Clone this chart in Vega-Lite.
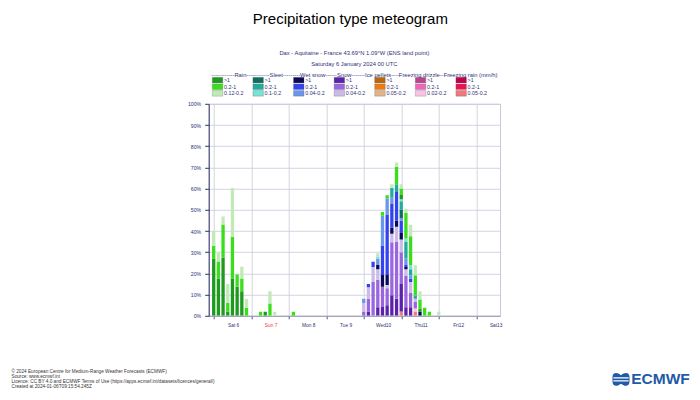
{
  "$schema": "https://vega.github.io/schema/vega-lite/v6.json",
  "padding": {"left": 11, "top": 11, "right": 0, "bottom": 0},
  "background": "white",
  "title": {"text": "Precipitation type meteogram", "fontSize": 15, "fontWeight": "normal", "font": "Liberation Sans", "color": "#000000", "anchor": "middle", "offset": 8.5, "baseline": "bottom"},
  "config": {
    "font": "Liberation Sans",
    "view": {"stroke": null},
    "axis": {"labelFont": "Liberation Sans"}
  },
  "datasets": {
    "cats": [
      {"c": "F3", "type": "Freezing rain", "lvl": "hi", "label": ">1", "o": 1},
      {"c": "F2", "type": "Freezing rain", "lvl": "mid", "label": "0.2-1", "o": 2},
      {"c": "F1", "type": "Freezing rain", "lvl": "lo", "label": "0.05-0.2", "o": 3},
      {"c": "D3", "type": "Freezing drizzle", "lvl": "hi", "label": ">1", "o": 4},
      {"c": "D2", "type": "Freezing drizzle", "lvl": "mid", "label": "0.2-1", "o": 5},
      {"c": "D1", "type": "Freezing drizzle", "lvl": "lo", "label": "0.02-0.2", "o": 6},
      {"c": "I3", "type": "Ice pellets", "lvl": "hi", "label": ">1", "o": 7},
      {"c": "I2", "type": "Ice pellets", "lvl": "mid", "label": "0.2-1", "o": 8},
      {"c": "I1", "type": "Ice pellets", "lvl": "lo", "label": "0.05-0.2", "o": 9},
      {"c": "N3", "type": "Snow", "lvl": "hi", "label": ">1", "o": 10},
      {"c": "N2", "type": "Snow", "lvl": "mid", "label": "0.2-1", "o": 11},
      {"c": "N1", "type": "Snow", "lvl": "lo", "label": "0.04-0.2", "o": 12},
      {"c": "W3", "type": "Wet snow", "lvl": "hi", "label": ">1", "o": 13},
      {"c": "W2", "type": "Wet snow", "lvl": "mid", "label": "0.2-1", "o": 14},
      {"c": "W1", "type": "Wet snow", "lvl": "lo", "label": "0.04-0.2", "o": 15},
      {"c": "S3", "type": "Sleet", "lvl": "hi", "label": ">1", "o": 16},
      {"c": "S2", "type": "Sleet", "lvl": "mid", "label": "0.2-1", "o": 17},
      {"c": "S1", "type": "Sleet", "lvl": "lo", "label": "0.1-0.2", "o": 18},
      {"c": "R3", "type": "Rain", "lvl": "hi", "label": ">1", "o": 19},
      {"c": "R2", "type": "Rain", "lvl": "mid", "label": "0.2-1", "o": 20},
      {"c": "R1", "type": "Rain", "lvl": "lo", "label": "0.12-0.2", "o": 21}
    ],
    "bars": [
      {"h": 0, "c": "R3", "v": 27}, {"h": 0, "c": "R2", "v": 6}, {"h": 0, "c": "R1", "v": 7},
      {"h": 3, "c": "R3", "v": 17.6}, {"h": 3, "c": "R2", "v": 8}, {"h": 3, "c": "R1", "v": 4},
      {"h": 6, "c": "R3", "v": 27.4}, {"h": 6, "c": "R2", "v": 15.7}, {"h": 6, "c": "R1", "v": 3.7},
      {"h": 9, "c": "R3", "v": 2}, {"h": 9, "c": "R2", "v": 4}, {"h": 9, "c": "R1", "v": 9},
      {"h": 12, "c": "R3", "v": 17.6}, {"h": 12, "c": "R2", "v": 19.7}, {"h": 12, "c": "R1", "v": 23},
      {"h": 15, "c": "R3", "v": 13.7}, {"h": 15, "c": "R2", "v": 5.8},
      {"h": 18, "c": "R3", "v": 11.6}, {"h": 18, "c": "R2", "v": 6}, {"h": 18, "c": "R1", "v": 5.5},
      {"h": 21, "c": "R2", "v": 3.8}, {"h": 21, "c": "R1", "v": 4.1},
      {"h": 30, "c": "R2", "v": 1.9},
      {"h": 33, "c": "R3", "v": 1.9},
      {"h": 36, "c": "R2", "v": 5.8}, {"h": 36, "c": "R1", "v": 5.8},
      {"h": 39, "c": "R1", "v": 1.9},
      {"h": 51, "c": "R2", "v": 1.9},
      {"h": 96, "c": "N2", "v": 2}, {"h": 96, "c": "N1", "v": 4}, {"h": 96, "c": "W1", "v": 2},
      {"h": 99, "c": "N3", "v": 2}, {"h": 99, "c": "N2", "v": 6}, {"h": 99, "c": "N1", "v": 5.5}, {"h": 99, "c": "W2", "v": 1.5},
      {"h": 102, "c": "N2", "v": 16}, {"h": 102, "c": "N1", "v": 7}, {"h": 102, "c": "W2", "v": 2.5},
      {"h": 105, "c": "N3", "v": 4}, {"h": 105, "c": "N2", "v": 13}, {"h": 105, "c": "N1", "v": 5}, {"h": 105, "c": "W3", "v": 2}, {"h": 105, "c": "W1", "v": 3}, {"h": 105, "c": "S1", "v": 1}, {"h": 105, "c": "R1", "v": 1.5},
      {"h": 108, "c": "N3", "v": 4.2}, {"h": 108, "c": "N2", "v": 9.5}, {"h": 108, "c": "W3", "v": 5.5}, {"h": 108, "c": "W2", "v": 14}, {"h": 108, "c": "W1", "v": 14}, {"h": 108, "c": "R2", "v": 1.8},
      {"h": 111, "c": "N3", "v": 5}, {"h": 111, "c": "N2", "v": 8}, {"h": 111, "c": "N1", "v": 1.5}, {"h": 111, "c": "W3", "v": 4.7}, {"h": 111, "c": "W2", "v": 28.3}, {"h": 111, "c": "W1", "v": 7.8}, {"h": 111, "c": "R2", "v": 1.6},
      {"h": 114, "c": "N3", "v": 9.7}, {"h": 114, "c": "N2", "v": 25}, {"h": 114, "c": "N1", "v": 4}, {"h": 114, "c": "W3", "v": 3}, {"h": 114, "c": "W2", "v": 11}, {"h": 114, "c": "W1", "v": 3}, {"h": 114, "c": "S2", "v": 4.7}, {"h": 114, "c": "R1", "v": 1.6},
      {"h": 117, "c": "N3", "v": 8}, {"h": 117, "c": "N2", "v": 27}, {"h": 117, "c": "N1", "v": 7}, {"h": 117, "c": "W3", "v": 3}, {"h": 117, "c": "W2", "v": 13.8}, {"h": 117, "c": "S2", "v": 3.3}, {"h": 117, "c": "R2", "v": 8.2}, {"h": 117, "c": "R1", "v": 2},
      {"h": 120, "c": "F1", "v": 2}, {"h": 120, "c": "N3", "v": 13}, {"h": 120, "c": "N2", "v": 15}, {"h": 120, "c": "N1", "v": 6}, {"h": 120, "c": "W3", "v": 3}, {"h": 120, "c": "W2", "v": 6}, {"h": 120, "c": "W1", "v": 1}, {"h": 120, "c": "S3", "v": 4}, {"h": 120, "c": "S2", "v": 4}, {"h": 120, "c": "S1", "v": 1}, {"h": 120, "c": "R3", "v": 2}, {"h": 120, "c": "R2", "v": 3}, {"h": 120, "c": "R1", "v": 2},
      {"h": 123, "c": "N3", "v": 4}, {"h": 123, "c": "N2", "v": 15}, {"h": 123, "c": "N1", "v": 3}, {"h": 123, "c": "W3", "v": 1}, {"h": 123, "c": "W2", "v": 1}, {"h": 123, "c": "W1", "v": 3}, {"h": 123, "c": "S2", "v": 8}, {"h": 123, "c": "S1", "v": 1.5}, {"h": 123, "c": "R2", "v": 12}, {"h": 123, "c": "R1", "v": 2},
      {"h": 126, "c": "N3", "v": 4}, {"h": 126, "c": "N2", "v": 7}, {"h": 126, "c": "N1", "v": 5}, {"h": 126, "c": "W2", "v": 1.5}, {"h": 126, "c": "W1", "v": 1.5}, {"h": 126, "c": "S2", "v": 3}, {"h": 126, "c": "S1", "v": 2}, {"h": 126, "c": "R2", "v": 13.5}, {"h": 126, "c": "R1", "v": 5.5},
      {"h": 129, "c": "F1", "v": 2}, {"h": 129, "c": "D1", "v": 1.5}, {"h": 129, "c": "N2", "v": 3}, {"h": 129, "c": "N1", "v": 1.6}, {"h": 129, "c": "S2", "v": 1.5}, {"h": 129, "c": "R2", "v": 9.5}, {"h": 129, "c": "R1", "v": 4.7},
      {"h": 132, "c": "W3", "v": 2}, {"h": 132, "c": "R3", "v": 1.5}, {"h": 132, "c": "R2", "v": 4.2}, {"h": 132, "c": "R1", "v": 3.9},
      {"h": 135, "c": "R2", "v": 3.8},
      {"h": 138, "c": "R2", "v": 1.9},
      {"h": 144, "c": "R1", "v": 1.9}
    ],
    "foot": [
      {"i": 1, "t": "© 2024 European Centre for Medium-Range Weather Forecasts (ECMWF)"},
      {"i": 2, "t": "Source: www.ecmwf.int"},
      {"i": 3, "t": "Licence: CC BY 4.0 and ECMWF Terms of Use (https://apps.ecmwf.int/datasets/licences/general/)"},
      {"i": 4, "t": "Created at 2024-01-06T09:15:54.245Z"}
    ]
  },
  "vconcat": [
    {
      "hconcat": [
        {"width": 1, "height": 1, "data": {"values": []}, "mark": "point", "encoding": {}},
        {
          "width": 291.3,
          "height": 19.5,
          "data": {"name": "cats"},
          "title": {
            "text": ["Dax - Aquitaine - France 43.69°N 1.09°W (ENS land point)", "Saturday 6 January 2024 00 UTC", "------------Rain------------Sleet---------Wet snow------Snow-------Ice pellets----Freezing drizzle--Freezing rain (mm/h)"],
            "fontSize": 5.8, "fontWeight": "normal", "color": "#303078", "anchor": "middle", "lineHeight": 10.9, "offset": -6.7, "baseline": "bottom", "frame": "group"
          },
          "layer": [
            {
              "mark": {"type": "rect", "stroke": "#666666", "strokeWidth": 0.4, "strokeOpacity": 0.7},
              "encoding": {
                "x": {"field": "type", "type": "nominal", "sort": ["Rain", "Sleet", "Wet snow", "Snow", "Ice pellets", "Freezing drizzle", "Freezing rain"], "scale": {"paddingInner": 0.741, "paddingOuter": 0.458, "align": 0.097}, "axis": null},
                "y": {"field": "lvl", "type": "nominal", "sort": ["hi", "mid", "lo"], "scale": {"paddingInner": 0.15, "paddingOuter": 0.05}, "axis": null},
                "color": {
                  "field": "c", "type": "nominal", "legend": null,
                  "scale": {
                    "domain": ["F3","F2","F1","D3","D2","D1","I3","I2","I1","N3","N2","N1","W3","W2","W1","S3","S2","S1","R3","R2","R1"],
                    "range": ["#c0004a","#ee1150","#ee7a7a","#b8448a","#ee66bb","#f8c4e2","#b8650c","#f07a10","#e2b488","#5a22aa","#9a66e0","#cbbbe8","#0a0a58","#3344ee","#6a96ec","#0e6e60","#22ac9c","#78e2d4","#1e9a1e","#3adf1c","#c2eab8"]
                  }
                }
              }
            },
            {
              "mark": {"type": "text", "align": "left", "baseline": "middle", "dx": 1.2, "fontSize": 5.3, "color": "#303078"},
              "encoding": {
                "x": {"field": "type", "type": "nominal", "sort": ["Rain", "Sleet", "Wet snow", "Snow", "Ice pellets", "Freezing drizzle", "Freezing rain"], "bandPosition": 1, "axis": null},
                "y": {"field": "lvl", "type": "nominal", "sort": ["hi", "mid", "lo"], "bandPosition": 0.5, "axis": null},
                "text": {"field": "label"}
              }
            }
          ]
        }
      ],
      "spacing": 196.7,
      "bounds": "flush"
    },
    {
      "hconcat": [
        {"width": 1, "height": 1, "data": {"values": []}, "mark": "point", "encoding": {}},
        {
          "width": 291.3,
          "height": 212,
          "view": {"stroke": "#c8c8d8", "strokeWidth": 1},
          "data": {"name": "bars"},
          "transform": [{"lookup": "c", "from": {"data": {"name": "cats"}, "key": "c", "fields": ["o"]}}],
          "mark": {"type": "bar", "width": 3.3, "clip": true},
          "encoding": {
            "x": {
              "field": "h", "type": "quantitative",
              "scale": {"domain": [0, 180], "nice": false, "zero": false},
              "axis": {
                "title": null,
                "values": [0, 24, 48, 72, 96, 120, 144, 168],
                "labelExpr": "['Sat 6','Sun 7','Mon 8','Tue 9','Wed10','Thu11','Fri12','Sat13'][round(datum.value/24)]",
                "labelOffset": 19.42, "labelFlush": false, "labelOverlap": false, "labelFontSize": 4.8, "labelPadding": 4,
                "labelColor": {"condition": {"test": "datum.value == 24", "value": "#ee3333"}, "value": "#303078"},
                "tickSize": 3, "tickColor": "#555588", "domainColor": "#9a9ab4", "gridColor": "#cacadc", "gridWidth": 0.8
              }
            },
            "y": {
              "field": "v", "type": "quantitative", "stack": "zero",
              "scale": {"domain": [0, 100], "nice": false},
              "axis": {
                "title": null,
                "values": [0, 10, 20, 30, 40, 50, 60, 70, 80, 90, 100],
                "labelExpr": "datum.value + '%'",
                "labelFontSize": 5.2, "labelPadding": 4, "labelColor": "#303078",
                "tickSize": 4, "tickColor": "#33336a", "domainColor": "#33336a", "gridColor": "#cacadc", "gridWidth": 0.8
              }
            },
            "color": {
              "field": "c", "type": "nominal", "legend": null,
              "scale": {
                "domain": ["F3","F2","F1","D3","D2","D1","I3","I2","I1","N3","N2","N1","W3","W2","W1","S3","S2","S1","R3","R2","R1"],
                "range": ["#c0004a","#ee1150","#ee7a7a","#b8448a","#ee66bb","#f8c4e2","#b8650c","#f07a10","#e2b488","#5a22aa","#9a66e0","#cbbbe8","#0a0a58","#3344ee","#6a96ec","#0e6e60","#22ac9c","#78e2d4","#1e9a1e","#3adf1c","#c2eab8"]
              }
            },
            "order": {"field": "o", "type": "quantitative"}
          }
        }
      ],
      "spacing": 196.7,
      "bounds": "flush"
    },
    {"width": 1, "height": 31.3, "data": {"values": []}, "mark": "point", "encoding": {}},
    {
      "hconcat": [
        {
          "width": 1,
          "height": 20,
          "data": {"name": "foot"},
          "mark": {"type": "text", "align": "left", "baseline": "middle", "fontSize": 4.7, "color": "#333333"},
          "encoding": {
            "y": {"field": "i", "type": "ordinal", "axis": null},
            "text": {"field": "t"}
          }
        },
        {
          "hconcat": [
            {
              "width": 16,
              "height": 20,
              "data": {"values": [{"k": "icon"}]},
              "layer": [
                {"mark": {"type": "point", "shape": "M-1,-0.25C-1,-0.85 -0.45,-0.85 0,-0.5C0.45,-0.85 1,-0.85 1,-0.25L1,0.25C1,0.85 0.45,0.85 0,0.5C-0.45,0.85 -1,0.85 -1,0.25Z", "size": 290, "filled": true, "color": "#1f5aa6", "opacity": 1}, "encoding": {}},
                {"mark": {"type": "point", "shape": "M-0.9,-0.17L0.9,-0.17M-0.9,0.17L0.9,0.17", "size": 290, "filled": false, "color": "white", "strokeWidth": 1.2, "opacity": 1}, "encoding": {}}
              ]
            },
            {
              "width": 57,
              "height": 20,
              "data": {"values": [{"t": "ECMWF"}]},
              "mark": {"type": "text", "fontSize": 15.5, "fontWeight": "bold", "color": "#1f5aa6", "align": "center", "baseline": "middle"},
              "encoding": {"text": {"field": "t"}}
            }
          ],
          "spacing": 3,
          "bounds": "flush"
        }
      ],
      "spacing": 601,
      "bounds": "flush"
    }
  ],
  "spacing": 3.8,
  "bounds": "full"
}
